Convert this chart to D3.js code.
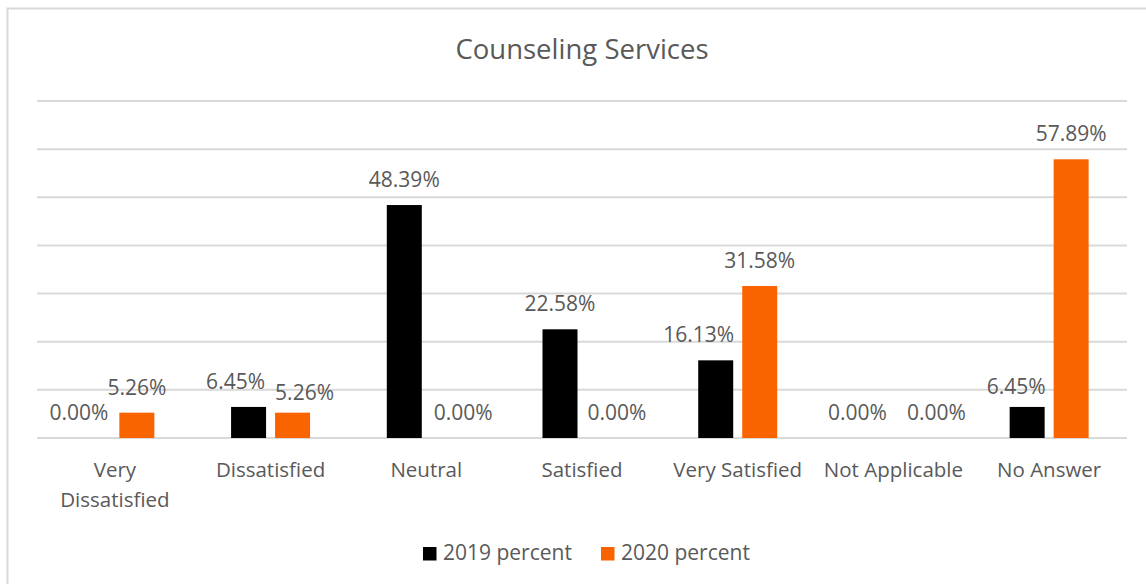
<!DOCTYPE html>
<html>
<head>
<meta charset="utf-8">
<script src="https://cdn.jsdelivr.net/npm/d3@7"></script>
<style>
  html, body { margin: 0; padding: 0; background: #fff; }
  svg { display: block; }
  text { font-family: "Open Sans", "Noto Sans", sans-serif; fill: #595959; }
</style>
</head>
<body>
<svg id="chart" width="1146" height="584"></svg>
<script>
// Survey responses for counseling services, percent of respondents
const categories = ["Very Dissatisfied", "Dissatisfied", "Neutral", "Satisfied", "Very Satisfied", "Not Applicable", "No Answer"];
const seriesNames = ["2019 percent", "2020 percent"];
const values2019 = [0.00, 6.45, 48.39, 22.58, 16.13, 0.00, 6.45];
const values2020 = [5.26, 5.26, 0.00, 0.00, 31.58, 0.00, 57.89];
const gridTicks = [0, 10, 20, 30, 40, 50, 60, 70];

// Small hand-placed offsets for data labels that would otherwise collide [dx, dy]
const labelNudge2019 = [[-14, 0], [-13, 0], [0, 0], [0, 0], [-17, 0], [-14, 0], [-11, 5]];
const labelNudge2020 = [[0, 0], [12, 5], [15, 0], [13, 0], [0, 0], [21, 0], [0, 0]];

const colors = ["#000000", "#fa6400"];

const svg = d3.select("#chart");

// Chart frame
svg.append("rect")
  .attr("x", 7.5).attr("y", 8.5)
  .attr("width", 1160).attr("height", 600)
  .attr("fill", "#fff")
  .attr("stroke", "#d9d9d9").attr("stroke-width", 2);

const plot = { left: 37, right: 1127, top: 101, bottom: 438 };

const x0 = d3.scaleBand().domain(categories).range([plot.left, plot.right]).padding(0);
const x1 = d3.scaleBand().domain(seriesNames).range([0, x0.bandwidth()])
  .paddingInner(0.2045).paddingOuter(0.872);
const y = d3.scaleLinear().domain([0, 70]).range([plot.bottom, plot.top]);

// Title
svg.append("text")
  .attr("x", (plot.left + plot.right) / 2).attr("y", 59)
  .attr("text-anchor", "middle")
  .style("font-size", "27.5px")
  .text("Counseling Services");

// Horizontal gridlines
svg.append("g").selectAll("line").data(gridTicks).join("line")
  .attr("x1", plot.left).attr("x2", plot.right)
  .attr("y1", d => y(d)).attr("y2", d => y(d))
  .attr("stroke", "#d9d9d9").attr("stroke-width", 2);

const rows = categories.map((c, i) => ({
  category: c,
  items: [
    { series: seriesNames[0], value: values2019[i], color: colors[0], nudge: labelNudge2019[i] },
    { series: seriesNames[1], value: values2020[i], color: colors[1], nudge: labelNudge2020[i] }
  ]
}));

const groups = svg.append("g").selectAll("g").data(rows).join("g")
  .attr("transform", d => `translate(${x0(d.category)},0)`);

groups.selectAll("rect").data(d => d.items).join("rect")
  .attr("x", d => x1(d.series))
  .attr("width", x1.bandwidth())
  .attr("y", d => y(d.value))
  .attr("height", d => y(0) - y(d.value))
  .attr("fill", d => d.color);

groups.selectAll("text.val").data(d => d.items).join("text")
  .attr("class", "val")
  .attr("x", d => x1(d.series) + x1.bandwidth() / 2 + d.nudge[0])
  .attr("y", d => y(d.value) - 18 + d.nudge[1])
  .attr("text-anchor", "middle")
  .style("font-size", "21px")
  .text(d => d.value.toFixed(2) + "%");

// Category axis labels (wrapped to fit the band)
const xAxis = svg.append("g");
categories.forEach(c => {
  const lines = c === "Very Dissatisfied" ? ["Very", "Dissatisfied"] : [c];
  const t = xAxis.append("text")
    .attr("x", x0(c) + x0.bandwidth() / 2)
    .attr("y", 477)
    .attr("text-anchor", "middle")
    .style("font-size", "20.5px");
  lines.forEach((ln, k) => {
    t.append("tspan")
      .attr("x", x0(c) + x0.bandwidth() / 2)
      .attr("dy", k === 0 ? 0 : 30)
      .text(ln);
  });
});

// Legend
const legendItems = [
  { name: seriesNames[0], color: colors[0], x: 423 },
  { name: seriesNames[1], color: colors[1], x: 601 }
];
const legend = svg.append("g");
legendItems.forEach(it => {
  legend.append("rect")
    .attr("x", it.x).attr("y", 547)
    .attr("width", 13.5).attr("height", 13.5)
    .attr("fill", it.color);
  legend.append("text")
    .attr("x", it.x + 20).attr("y", 559.5)
    .style("font-size", "21px")
    .text(it.name);
});
</script>
</body>
</html>
